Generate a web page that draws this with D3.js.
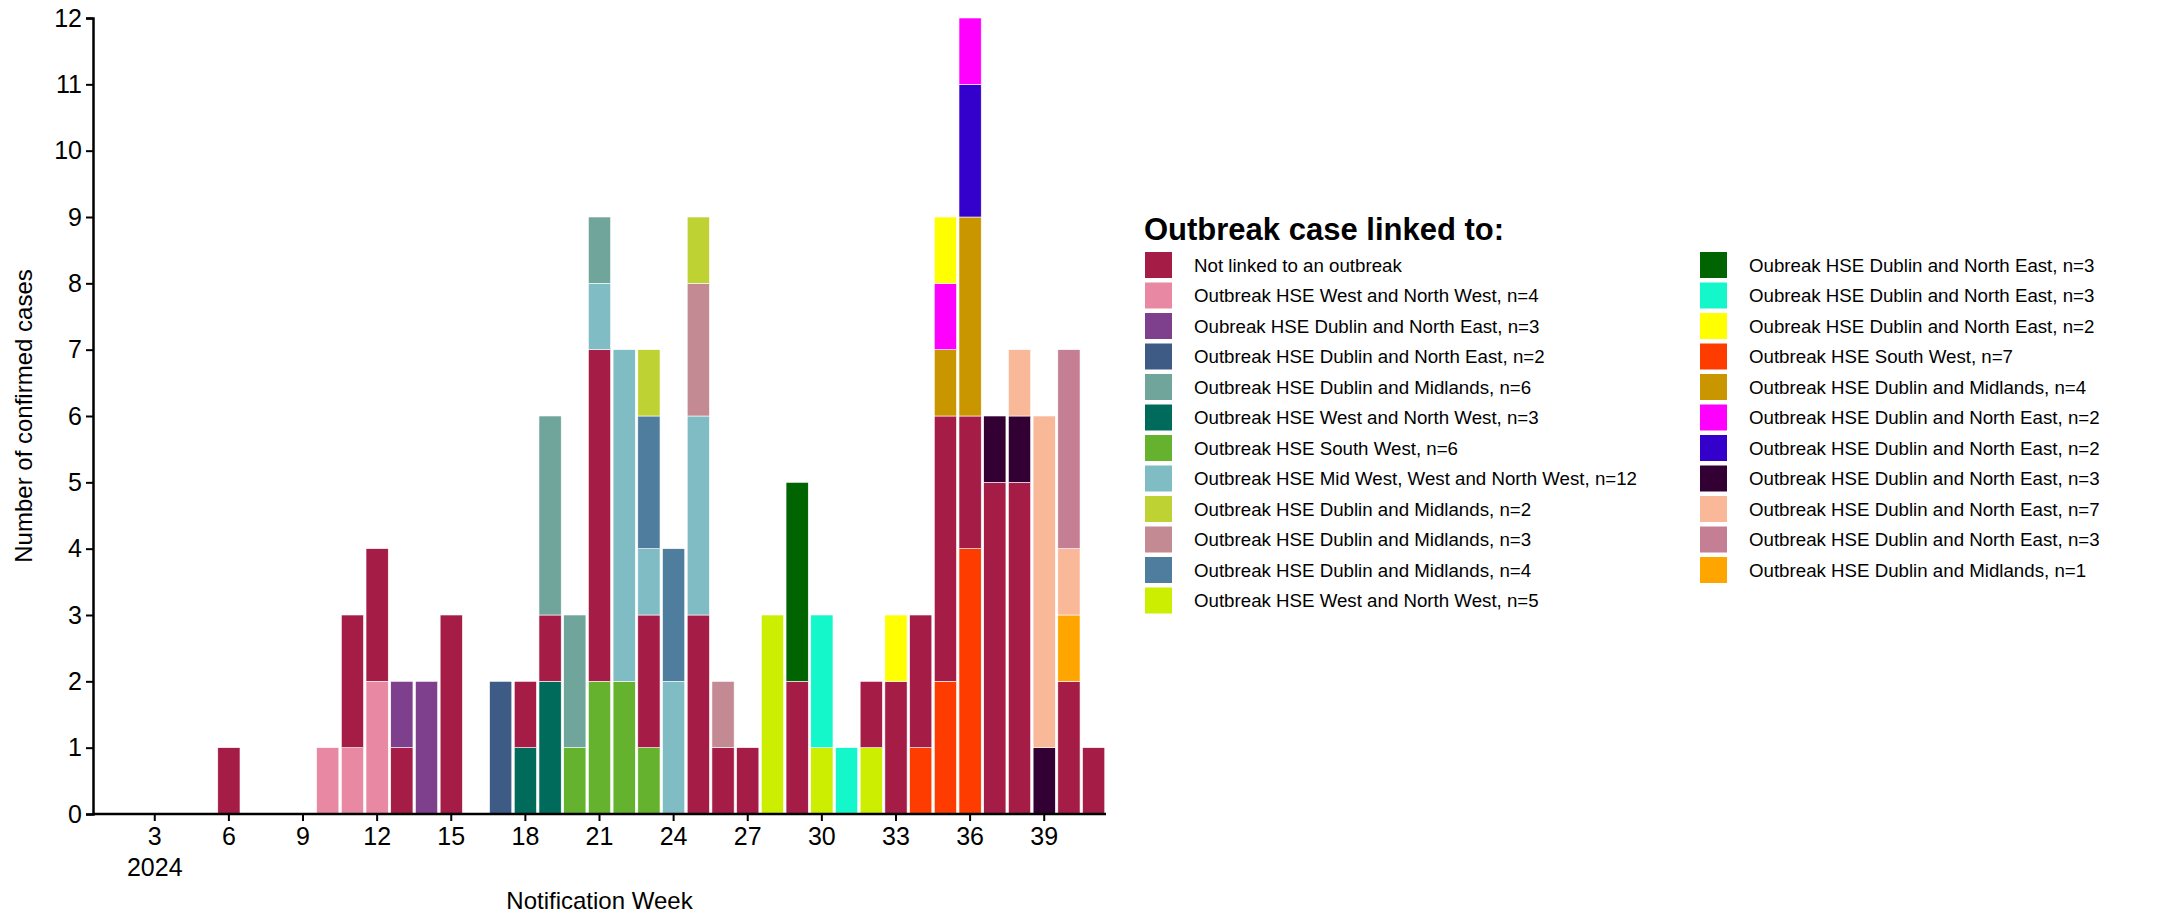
<!DOCTYPE html>
<html>
<head>
<meta charset="utf-8">
<script src="https://cdn.jsdelivr.net/npm/d3@7"></script>
<style>
  body { margin: 0; background: #fff; }
  text { font-family: "Liberation Sans", Arial, sans-serif; fill: #000; }
</style>
</head>
<body>
<script>
// notification weeks 2024
var weeks = [1,2,3,4,5,6,7,8,9,10,11,12,13,14,15,16,17,18,19,20,21,22,23,24,25,26,27,28,29,30,31,32,33,34,35,36,37,38,39,40,41];
var tickWeeks = [3,6,9,12,15,18,21,24,27,30,33,36,39];

// legend order
var seriesLabels = [
  "Not linked to an outbreak",
  "Outbreak HSE West and North West, n=4",
  "Oubreak HSE Dublin and North East, n=3",
  "Outbreak HSE Dublin and North East, n=2",
  "Outbreak HSE Dublin and Midlands, n=6",
  "Outbreak HSE West and North West, n=3",
  "Outbreak HSE South West, n=6",
  "Outbreak HSE Mid West, West and North West, n=12",
  "Outbreak HSE Dublin and Midlands, n=2",
  "Outbreak HSE Dublin and Midlands, n=3",
  "Outbreak HSE Dublin and Midlands, n=4",
  "Outbreak HSE West and North West, n=5",
  "Oubreak HSE Dublin and North East, n=3",
  "Oubreak HSE Dublin and North East, n=3",
  "Oubreak HSE Dublin and North East, n=2",
  "Outbreak HSE South West, n=7",
  "Outbreak HSE Dublin and Midlands, n=4",
  "Outbreak HSE Dublin and North East, n=2",
  "Outbreak HSE Dublin and North East, n=2",
  "Outbreak HSE Dublin and North East, n=3",
  "Outbreak HSE Dublin and North East, n=7",
  "Outbreak HSE Dublin and North East, n=3",
  "Outbreak HSE Dublin and Midlands, n=1"
];
var seriesColors = [
  "#a51d46", "#e888a2", "#7e3f8c", "#3e5b86", "#6fa59b", "#006b5b",
  "#65b22f", "#7fbcc4", "#bed233", "#c48a93", "#4f7d9e", "#ccee00",
  "#006400", "#14f7cb", "#ffff00", "#ff3c00", "#c99600", "#ff00ff",
  "#3300cc", "#330033", "#f9b898", "#c47f94", "#ffa500"
];
// [week, cases] per series, same order as the legend
var seriesCases = [
  [[6,1],[11,2],[12,2],[13,1],[15,3],[18,1],[19,1],[21,5],[23,2],[25,3],[26,1],[27,1],[29,2],[32,1],[33,2],[34,2],[35,4],[36,2],[37,5],[38,5],[40,2],[41,1]],
  [[10,1],[11,1],[12,2]],
  [[13,1],[14,2]],
  [[17,2]],
  [[19,3],[20,2],[21,1]],
  [[18,1],[19,2]],
  [[20,1],[21,2],[22,2],[23,1]],
  [[21,1],[22,5],[23,1],[24,2],[25,3]],
  [[23,1],[25,1]],
  [[25,2],[26,1]],
  [[23,2],[24,2]],
  [[28,3],[30,1],[32,1]],
  [[29,3]],
  [[30,2],[31,1]],
  [[33,1],[35,1]],
  [[34,1],[35,2],[36,4]],
  [[35,1],[36,3]],
  [[35,1],[36,1]],
  [[36,2]],
  [[37,1],[38,1],[39,1]],
  [[38,1],[39,5],[40,1]],
  [[40,3]],
  [[40,1]]
];
// bottom-to-top stacking (indices into the legend order)
var stackOrder = [1,5,6,11,15,3,0,2,7,4,10,9,8,12,13,16,18,17,14,19,22,20,21];

var width = 2172, height = 915;
var margin = { left: 93, right: 1106, top: 18, bottom: 814 };

// build table
var table = weeks.map(function (w) {
  var row = { week: w };
  seriesCases.forEach(function (s, i) { row["s" + i] = 0; });
  return row;
});
seriesCases.forEach(function (s, i) {
  s.forEach(function (p) { table[p[0] - 1]["s" + i] = p[1]; });
});

var stack = d3.stack().keys(stackOrder.map(function (i) { return "s" + i; }));
var layers = stack(table);

var x = d3.scaleBand()
  .domain(weeks)
  .range([margin.left, margin.right])
  .paddingInner(0.1)
  .paddingOuter(0.05);

var y = d3.scaleLinear()
  .domain([0, 12])
  .range([margin.bottom, margin.top]);

var svg = d3.select("body").append("svg")
  .attr("width", width).attr("height", height);

svg.append("g").selectAll("g")
  .data(layers)
  .join("g")
    .attr("fill", function (d) { return seriesColors[+d.key.slice(1)]; })
  .selectAll("rect")
  .data(function (d) { return d.filter(function (v) { return v[1] > v[0]; }); })
  .join("rect")
    .attr("x", function (d) { return x(d.data.week); })
    .attr("width", x.bandwidth())
    .attr("y", function (d) { return y(d[1]); })
    .attr("height", function (d) { return y(d[0]) - y(d[1]); })
    .attr("stroke", "#fff")
    .attr("stroke-width", 0.6);

// y axis
var yAxis = svg.append("g")
  .attr("transform", "translate(" + margin.left + ",0)")
  .call(d3.axisLeft(y).ticks(12).tickSizeOuter(0).tickSize(7).tickPadding(4));
yAxis.select(".domain").attr("stroke-width", 2.5);
yAxis.selectAll(".tick line").attr("stroke-width", 2);
yAxis.selectAll("text").attr("font-size", 25).style("font-family", "Liberation Sans, Arial, sans-serif");

// x axis
var xAxis = svg.append("g")
  .attr("transform", "translate(0," + margin.bottom + ")")
  .call(d3.axisBottom(x).tickValues(tickWeeks).tickSizeOuter(0).tickSize(7).tickPadding(6));
xAxis.select(".domain").attr("stroke-width", 2.5)
  .attr("d", "M" + margin.left + ",0H" + margin.right);
xAxis.selectAll(".tick line").attr("stroke-width", 2);
xAxis.selectAll("text").attr("font-size", 25).style("font-family", "Liberation Sans, Arial, sans-serif");
xAxis.selectAll(".tick").filter(function (d) { return d === 3; })
  .append("text")
    .attr("y", 44).attr("dy", "0.71em")
    .attr("text-anchor", "middle")
    .attr("font-size", 25)
    .attr("fill", "#000")
    .text("2024");

svg.append("text")
  .attr("transform", "translate(32," + ((margin.top + margin.bottom) / 2) + ") rotate(-90)")
  .attr("text-anchor", "middle")
  .attr("font-size", 24)
  .text("Number of confirmed cases");

svg.append("text")
  .attr("x", (margin.left + margin.right) / 2)
  .attr("y", 909)
  .attr("text-anchor", "middle")
  .attr("font-size", 24)
  .text("Notification Week");

// legend
var legend = svg.append("g");
legend.append("text")
  .attr("x", 1144).attr("y", 240)
  .attr("font-size", 31).attr("font-weight", "bold")
  .text("Outbreak case linked to:");

var rowStep = 30.5;
var items = legend.selectAll("g.item")
  .data(seriesLabels)
  .join("g")
    .attr("class", "item")
    .attr("transform", function (d, i) {
      var col = i < 12 ? 0 : 1;
      var row = i < 12 ? i : i - 12;
      return "translate(" + (col === 0 ? 1145 : 1700) + "," + (265 + row * rowStep) + ")";
    });
items.append("rect")
  .attr("x", 0).attr("y", -13)
  .attr("width", 27).attr("height", 26)
  .attr("fill", function (d, i) { return seriesColors[i]; });
items.append("text")
  .attr("x", 49).attr("y", 0).attr("dy", "0.35em")
  .attr("font-size", 18.7)
  .text(function (d) { return d; });
</script>
</body>
</html>
